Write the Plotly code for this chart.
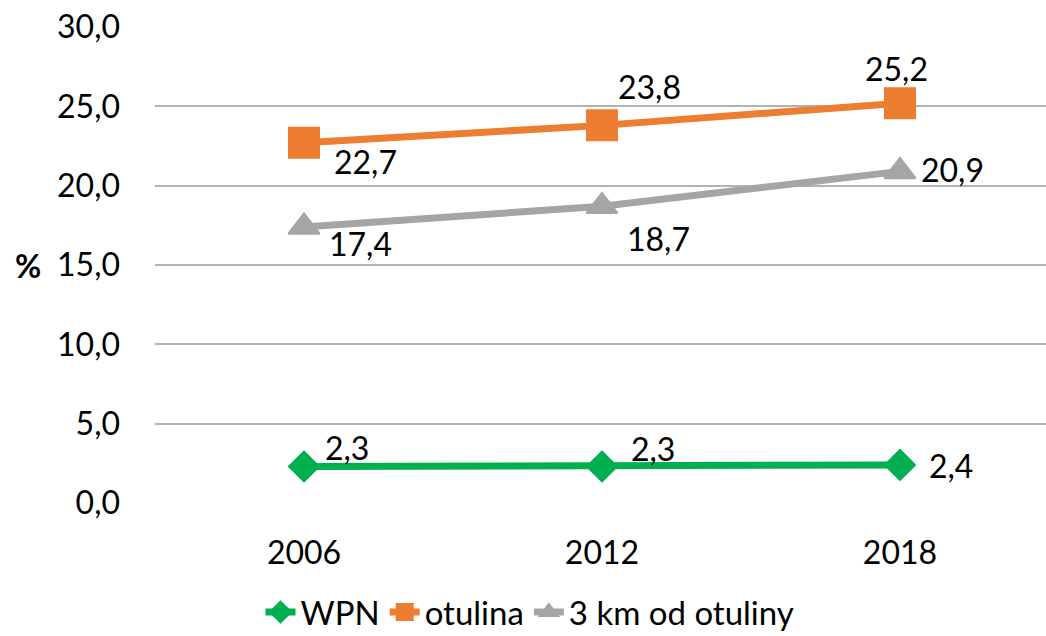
import plotly.graph_objects as go

years = ["2006", "2012", "2018"]
wpn = [2.3, 2.3, 2.4]
otulina = [22.7, 23.8, 25.2]
km3 = [17.4, 18.7, 20.9]

series = [
    ("WPN", wpn, "#00B050", "diamond", 23),
    ("otulina", otulina, "#ED7D31", "square", 30),
    ("3 km od otuliny", km3, "#A5A5A5", "triangle-up", 27),
]

# label offsets (px, right / down) per series per point
offsets = {
    "WPN": [(43, -19), (51, -18), (51, 1)],
    "otulina": [(61, 19), (48, -39), (-3, -35)],
    "3 km od otuliny": [(56, 17), (57, 32), (53, -2)],
}

FONT = "Lato, Carlito, Calibri, sans-serif"
PLOT_L, PLOT_W = 155, 891

fig = go.Figure()
annotations = []
for name, vals, color, sym, size in series:
    fig.add_trace(go.Scatter(
        x=years, y=vals, name=name, mode="lines+markers",
        line=dict(color=color, width=7),
        marker=dict(symbol=sym, size=size, color=color,
                    line=dict(color=color, width=2)),
    ))
    for i, (v, (dx, dy)) in enumerate(zip(vals, offsets[name])):
        annotations.append(dict(
            x=i, y=v, xref="x", yref="y",
            text=f"{v:.1f}".replace(".", ","),
            showarrow=False, xshift=dx, yshift=-dy,
            font=dict(family=FONT, size=32, color="#000000"),
        ))

annotations.append(dict(
    x=(28 - PLOT_L) / PLOT_W, xref="paper", y=15, yref="y", text="<b>%</b>",
    showarrow=False, xanchor="center",
    font=dict(family=FONT, size=32, color="#000000"),
))

fig.update_layout(
    width=1046, height=636,
    margin=dict(l=PLOT_L, r=0, t=27, b=133, autoexpand=False),
    paper_bgcolor="white", plot_bgcolor="white",
    separators=",.",
    font=dict(family=FONT, size=32, color="#000000"),
    showlegend=True,
    legend=dict(orientation="h", xref="container", x=530 / 1046,
                xanchor="center", yref="container", y=(636 - 612) / 636,
                yanchor="middle", font=dict(family=FONT, size=33),
                tracegroupgap=0),
    annotations=annotations,
)
fig.update_xaxes(
    type="category", range=[-0.5, 2.49], showgrid=False, zeroline=False,
    showline=False, ticks="", ticklabelstandoff=28, automargin=False,
    tickfont=dict(family=FONT, size=32),
)
fig.update_yaxes(
    range=[0, 30], dtick=5, tickformat=".1f", showgrid=True,
    gridcolor="#B3B3B3", gridwidth=1.5, zeroline=False, showline=False,
    ticks="", ticklabelstandoff=34, automargin=False,
    tickfont=dict(family=FONT, size=32),
)

fig.write_html("out.html")
